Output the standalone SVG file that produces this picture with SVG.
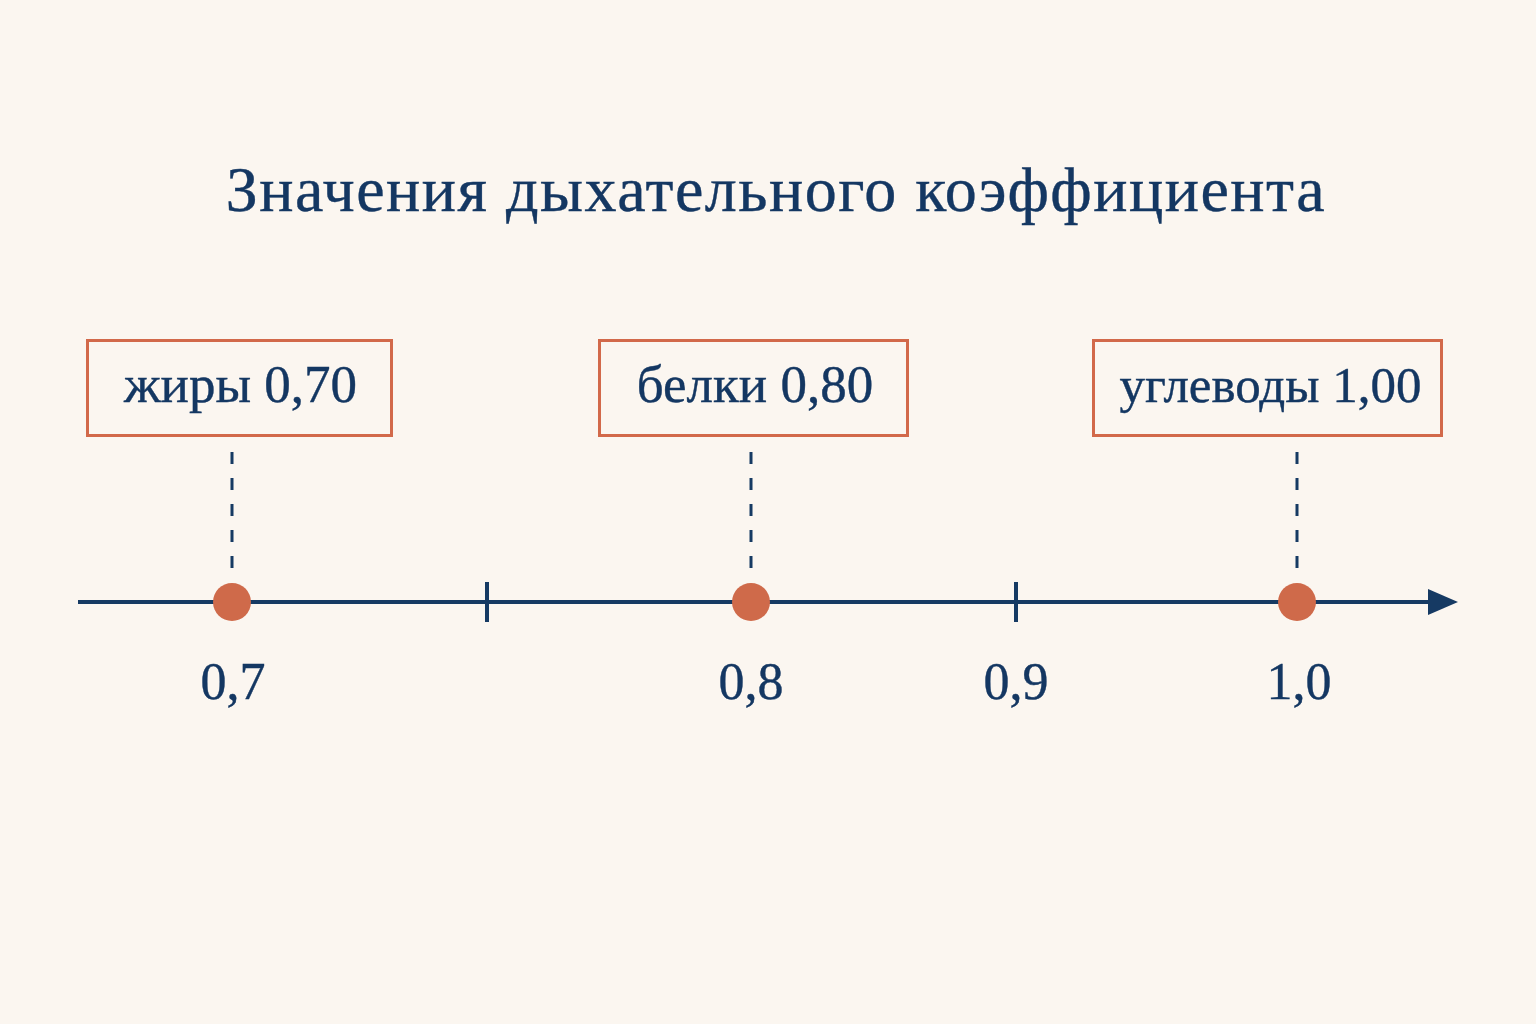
<svg xmlns="http://www.w3.org/2000/svg" width="1536" height="1024" viewBox="0 0 1536 1024">
<defs>
<style>
.t{font-family:"Liberation Serif","DejaVu Serif",serif;fill:#143762;stroke:#143762;stroke-width:0.4;}
.box{fill:none;stroke:#D2694A;stroke-width:3;}
.dash{stroke:#163A63;stroke-width:3;stroke-dasharray:12 14;}
.dot{fill:#CF6A4A;}
.axis{stroke:#163A63;stroke-width:4;fill:none;}
</style>
</defs>
<rect width="1536" height="1024" fill="#FBF6F0"/>
<text class="t" x="776" y="211" font-size="64" letter-spacing="1.5" text-anchor="middle">Значения дыхательного коэффициента</text>
<g id="connectors">
<path class="axis" d="M78,602 H1440"/>
<path d="M1458,602 L1428,589 L1428,615 Z" fill="#163A63"/>
<path class="axis" d="M487,582 V622 M1016,582 V622" stroke-width="3"/>
<path class="dash" d="M232,452 V572 M751,452 V572 M1297,452 V572"/>
</g>
<g id="node-fats">
<rect class="box" x="87.5" y="340.5" width="304" height="95"/>
<text class="t" x="240.5" y="402" font-size="53" text-anchor="middle">жиры 0,70</text>
<circle class="dot" cx="232" cy="602" r="19"/>
</g>
<g id="node-proteins">
<rect class="box" x="599.5" y="340.5" width="308" height="95"/>
<text class="t" x="755" y="402" font-size="53" text-anchor="middle">белки 0,80</text>
<circle class="dot" cx="751" cy="602" r="19"/>
</g>
<g id="node-carbs">
<rect class="box" x="1093.5" y="340.5" width="348" height="95"/>
<text class="t" x="1270.5" y="402" font-size="51" text-anchor="middle">углеводы 1,00</text>
<circle class="dot" cx="1297" cy="602" r="19"/>
</g>
<g id="ticks-labels">
<text class="t" x="233" y="699" font-size="52" text-anchor="middle">0,7</text>
<text class="t" x="751" y="699" font-size="52" text-anchor="middle">0,8</text>
<text class="t" x="1016" y="699" font-size="52" text-anchor="middle">0,9</text>
<text class="t" x="1299" y="699" font-size="52" text-anchor="middle">1,0</text>
</g>
</svg>
